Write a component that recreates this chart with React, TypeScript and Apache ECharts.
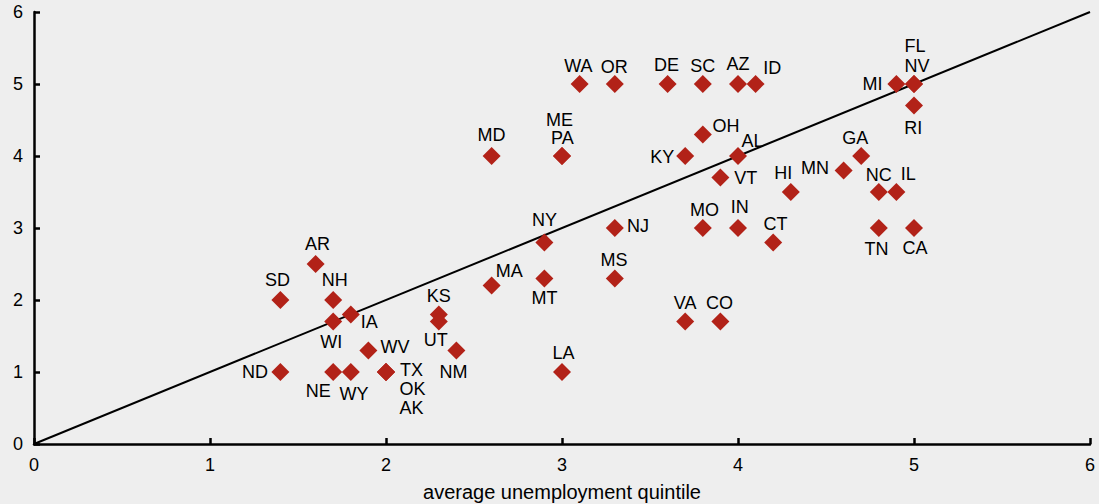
import React, { useEffect, useRef } from "react";
import * as echarts from "echarts";

const states = ["SD","AR","NH","WI","IA","ND","NE","WY","WV","TX","OK","AK","KS","UT","NM","MA","MT","NY","LA","MS","NJ","MD","ME","PA","WA","OR","DE","SC","AZ","ID","OH","KY","AL","VT","MO","IN","CT","HI","VA","CO","MN","GA","NC","IL","TN","CA","MI","FL","NV","RI"];
const unemploymentQuintile = [1.4,1.6,1.7,1.7,1.8,1.4,1.7,1.8,1.9,2,2,2,2.3,2.3,2.4,2.6,2.9,2.9,3,3.3,3.3,2.6,3,3,3.1,3.3,3.6,3.8,4,4.1,3.8,3.7,4,3.9,3.8,4,4.2,4.3,3.7,3.9,4.6,4.7,4.8,4.9,4.8,5,4.9,5,5,5];
const otherQuintile = [2,2.5,2,1.7,1.8,1,1,1,1.3,1,1,1,1.8,1.7,1.3,2.2,2.3,2.8,1,2.3,3,4,4,4,5,5,5,5,5,5,4.3,4,4,3.7,3,3,2.8,3.5,1.7,1.7,3.8,4,3.5,3.5,3,3,5,5,5,4.7];
const diagonal = [[0, 0], [6, 6]];
const axisTicks = [0, 1, 2, 3, 4, 5, 6];

// label placement (pixel offset of label centre from marker centre)
const labelOffset: Record<string, [number, number]> = {
  SD: [-3, -20], AR: [2, -20], NH: [1.5, -20.5], WI: [-2, 20.5], IA: [18.5, 7.5],
  ND: [-25.5, -0.5], NE: [-15, 18.5], WY: [3.3, 21.5], WV: [26.7, -3.3],
  TX: [25.5, -1.7], OK: [26.5, 16.7], AK: [25.5, 35.5], KS: [0, -18.8], UT: [-3, 18.4],
  NM: [-3, 21.3], MA: [17.7, -14.6], MT: [0, 19.7], NY: [0, -22], LA: [1.5, -18.7],
  MS: [-0.7, -18.7], NJ: [23.2, -1.6], MD: [0, -21.3], ME: [-2.5, -36.3], PA: [0.4, -18],
  WA: [-1.3, -18], OR: [-0.5, -17.3], DE: [-1.2, -19], SC: [0, -18.3], AZ: [0, -20],
  ID: [16.7, -16.3], OH: [23.3, -8.2], KY: [-23, 1], AL: [14.5, -15.3], VT: [25.4, 0.3],
  MO: [1.6, -17.8], IN: [1.8, -20.8], CT: [2.3, -18.7], HI: [-7.6, -19], VA: [0, -18.3],
  CO: [-1, -18.3], MN: [-28.5, -2.3], GA: [-6, -17.7], NC: [0, -17.3], IL: [11.9, -17.7],
  TN: [-2.4, 21], CA: [1, 19.7], MI: [-23.8, 0], FL: [1, -38], NV: [3, -18.3], RI: [-0.7, 22.3],
};

const FONT = "'Liberation Sans', Arial, Helvetica, sans-serif";

export default function App() {
  const ref = useRef<HTMLDivElement>(null);
  useEffect(() => {
    document.body.style.margin = "0";
    const chart = echarts.init(ref.current!, null, { renderer: "svg" });
    const scatterData = states.map((s, i) => ({
      name: s,
      value: [unemploymentQuintile[i], otherQuintile[i]],
      label: { offset: labelOffset[s] || [0, -18] },
    }));
    const axisCommon = {
      type: "value" as const,
      min: axisTicks[0],
      max: axisTicks[axisTicks.length - 1],
      interval: 1,
      splitLine: { show: false },
      axisLine: { show: true, lineStyle: { color: "#000", width: 2.5 } },
      axisTick: { show: true, inside: true, length: 6, lineStyle: { color: "#000", width: 2.5 } },
    };
    chart.setOption({
      animation: false,
      backgroundColor: "#eeeeee",
      textStyle: { fontFamily: FONT },
      grid: { left: 34, right: 9, top: 12, bottom: 60, containLabel: false, outerBoundsMode: "none" },
      xAxis: {
        ...axisCommon,
        axisLabel: { color: "#000", fontSize: 18, fontFamily: FONT, margin: 12 },
        name: "average unemployment quintile",
        nameLocation: "middle",
        nameGap: 38,
        nameTextStyle: { color: "#000", fontSize: 20, fontFamily: FONT },
      },
      yAxis: {
        ...axisCommon,
        axisLabel: { color: "#000", fontSize: 18, fontFamily: FONT, margin: 11 },
      },
      series: [
        {
          type: "line",
          data: diagonal,
          symbol: "none",
          lineStyle: { color: "#000", width: 2 },
          silent: true,
          z: 1,
        },
        {
          type: "scatter",
          symbol: "diamond",
          symbolSize: 18,
          itemStyle: { color: "#b22218", opacity: 1 },
          data: scatterData,
          z: 2,
          label: {
            show: true,
            position: "inside",
            formatter: "{b}",
            color: "#000",
            fontSize: 18,
            fontFamily: FONT,
            textBorderWidth: 0,
          },
        },
      ],
    });
    return () => chart.dispose();
  }, []);
  return <div ref={ref} style={{ width: 1099, height: 504 }} />;
}
